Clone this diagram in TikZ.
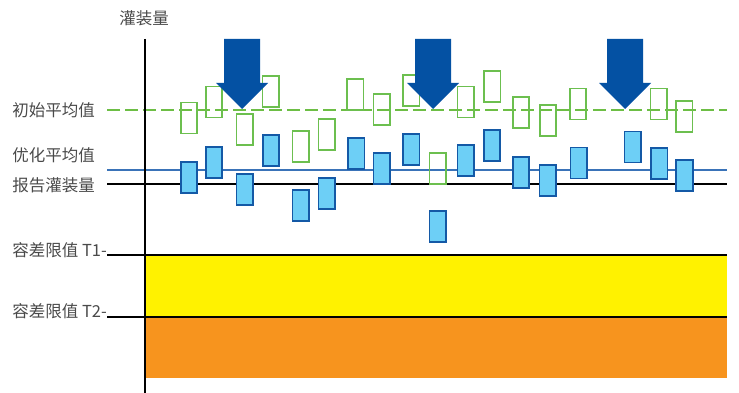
\documentclass[tikz,border=0pt]{standalone}
\usepackage{fontspec}
\setmainfont{Noto Sans CJK SC}
\definecolor{txt}{HTML}{4A4A4A}
\definecolor{gline}{HTML}{6DBE45}
\definecolor{gbox}{HTML}{6CBF4F}
\definecolor{bline}{HTML}{3A73B8}
\definecolor{bfill}{HTML}{6DCFF6}
\definecolor{bedge}{HTML}{1459A6}
\definecolor{arrowblue}{HTML}{0451A3}
\definecolor{yel}{HTML}{FFF200}
\definecolor{ora}{HTML}{F7941E}
\tikzset{
  lbl/.style={font=\fontsize{16.5}{18}\selectfont, text=txt, inner sep=0pt},
  greenbox/.style={draw=gbox, line width=1.7pt, minimum width=16.5pt, minimum height=31pt, inner sep=0pt},
  bluebox/.style={draw=bedge, fill=bfill, line width=1.7pt, minimum width=16.5pt, minimum height=31pt, inner sep=0pt},
  bigarrow/.style={fill=arrowblue, draw=none},
}
\begin{document}
\begin{tikzpicture}[x=1pt,y=-1pt]
\useasboundingbox (0,0) rectangle (739,393);
% bands
\fill[yel] (145,255) rectangle (727,317);
\fill[ora] (145,317) rectangle (727,378);
% labels
\node[lbl] (axlbl) at (144,18) {灌装量};
\node[lbl, anchor=east] (l1) at (95,110) {初始平均值};
\node[lbl, anchor=east] (l2) at (95,155) {优化平均值};
\node[lbl, anchor=east] (l3) at (95,185) {报告灌装量};
\node[lbl, anchor=east] (l4) at (107,250) {容差限值 T1-};
\node[lbl, anchor=east] (l5) at (107,311) {容差限值 T2-};
% coordinates for lines
\coordinate (d0) at (107,110); \coordinate (d1) at (727,110);
\coordinate (o0) at (107,170); \coordinate (o1) at (727,170);
\coordinate (r0) at (107,184); \coordinate (r1) at (727,184);
\coordinate (t10) at (107,255); \coordinate (t11) at (727,255);
\coordinate (t20) at (107,317); \coordinate (t21) at (727,317);
\coordinate (ax0) at (145,39); \coordinate (ax1) at (145,393);
\draw[gline, line width=1.6pt, dash pattern=on 12.5pt off 5.5pt] (d0) -- (d1);
\draw[bline, line width=1.6pt] (o0) -- (o1);
\draw[black, line width=1.6pt] (r0) -- (r1);
\draw[black, line width=1.6pt] (t10) -- (t11);
\draw[black, line width=1.6pt] (t20) -- (t21);
\draw[black, line width=2pt] (ax0) -- (ax1);
% green boxes
\foreach \n/\x/\y in {1/189/118, 2/214/102, 3/244.7/129.7, 4/270.7/91.7, 5/300.7/146.3, 6/326.7/134.8, 7/355.3/94.2, 8/381.7/109.7, 9/411.3/90.7, 10/437.7/168.7, 11/465.7/102, 12/492.3/86.2, 13/521/112.8, 14/548/120.7, 15/578/104, 16/658.8/104, 17/684.3/116.5}
  \node[greenbox] (g\n) at (\x,\y) {};
% blue boxes
\foreach \n/\x/\y in {1/189/177.2, 2/214/162.3, 3/244.8/189.5, 4/271/150.5, 5/300.7/205.7, 6/326.7/193.2, 7/356.3/153.3, 8/381.8/168.7, 9/411.3/149.3, 10/437.7/226.2, 11/465.8/160.5, 12/492/145.7, 13/521/172.2, 14/547.8/180.3, 15/578.8/163, 16/632.7/147, 17/659.2/163.3, 18/684.5/175.7}
  \node[bluebox] (b\n) at (\x,\y) {};
% big arrows
\foreach \c in {242,433,625}
  \fill[bigarrow] (\c-18,39) -- (\c+18,39) -- (\c+18,83) -- (\c+26,83) -- (\c,109) -- (\c-26,83) -- (\c-18,83) -- cycle;
\end{tikzpicture}
\end{document}
